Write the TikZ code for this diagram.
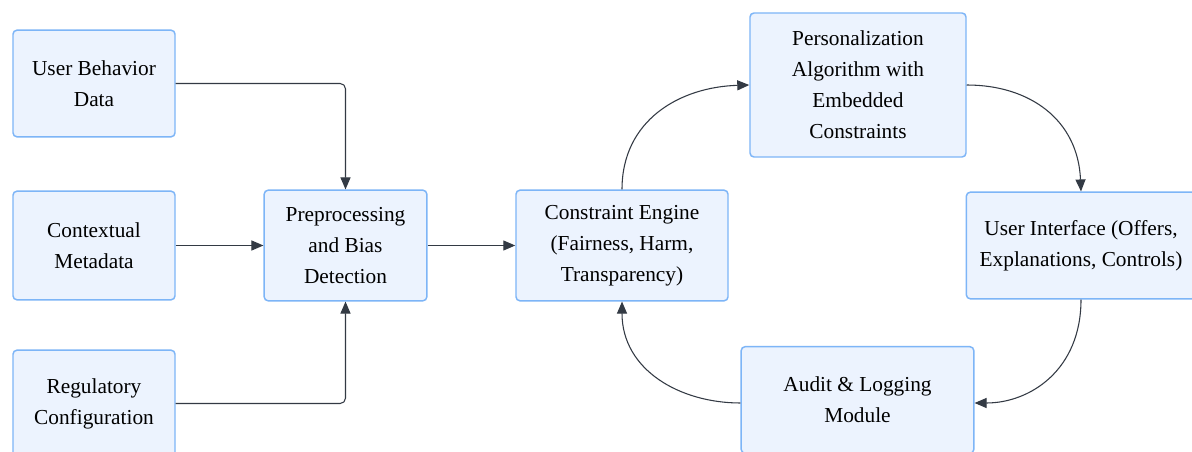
\documentclass[tikz,border=0pt]{standalone}
\usepackage{fontspec}
\setmainfont{Liberation Serif}
\usetikzlibrary{arrows.meta}
\definecolor{boxfill}{HTML}{ECF3FE}
\definecolor{boxline}{HTML}{7DB5F7}
\definecolor{edge}{HTML}{333A44}
\tikzstyle{bx}=[draw=boxline,fill=boxfill,line width=1.1pt,rounded corners=3pt,align=center,inner sep=0pt,font=\fontsize{16}{23.3}\selectfont]
\tikzstyle{ln}=[draw=edge,line width=0.8pt,-{Triangle[length=9pt,width=7.5pt]},rounded corners=4pt]

\begin{document}
\begin{tikzpicture}[x=0.75pt,y=-0.75pt]
\clip (0,0) rectangle (1192,452);
\fill[white] (0,0) rectangle (1192,452);
\node[bx,minimum width=121.5pt,minimum height=80pt] (ubd) at (94,83.5) {User Behavior\\Data};
\node[bx,minimum width=121.5pt,minimum height=81.5pt] (cm) at (94,245.5) {Contextual\\Metadata};
\node[bx,minimum width=121.5pt,minimum height=80pt] (rc) at (94,403.5) {Regulatory\\Configuration};
\node[bx,minimum width=122pt,minimum height=83pt] (pre) at (345.5,245.5) {Preprocessing\\and Bias\\Detection};
\node[bx,minimum width=159pt,minimum height=83pt] (ce) at (622,245.5) {Constraint Engine\\(Fairness, Harm,\\Transparency)};
\node[bx,minimum width=162pt,minimum height=108pt] (pa) at (858,85) {Personalization\\Algorithm with\\Embedded\\Constraints};
\node[bx,minimum width=172pt,minimum height=80pt] (ui) at (1081,245.5) {User Interface (Offers,\\Explanations, Controls)};
\node[bx,minimum width=174.5pt,minimum height=80pt] (au) at (857.5,400) {Audit \& Logging\\Module};
% inputs to preprocessing
\draw[ln] (ubd.east) -- (pre.north |- ubd.east) -- (pre.north);
\draw[ln] (cm.east) -- (pre.west);
\draw[ln] (rc.east) -- (pre.south |- rc.east) -- (pre.south);
\draw[ln] (pre.east) -- (ce.west);
% feedback loop
\draw[ln] (ce.north) .. controls (622,120) and (680,87) .. (pa.west);
\draw[ln] (pa.east) .. controls (1030,85) and (1078,120) .. (ui.north);
\draw[ln] (ui.south) .. controls (1081,370) and (1030,403) .. (au.east |- 0,403);
\draw[ln] (au.west |- 0,403) .. controls (680,403) and (622,370) .. (ce.south);
\end{tikzpicture}
\end{document}
